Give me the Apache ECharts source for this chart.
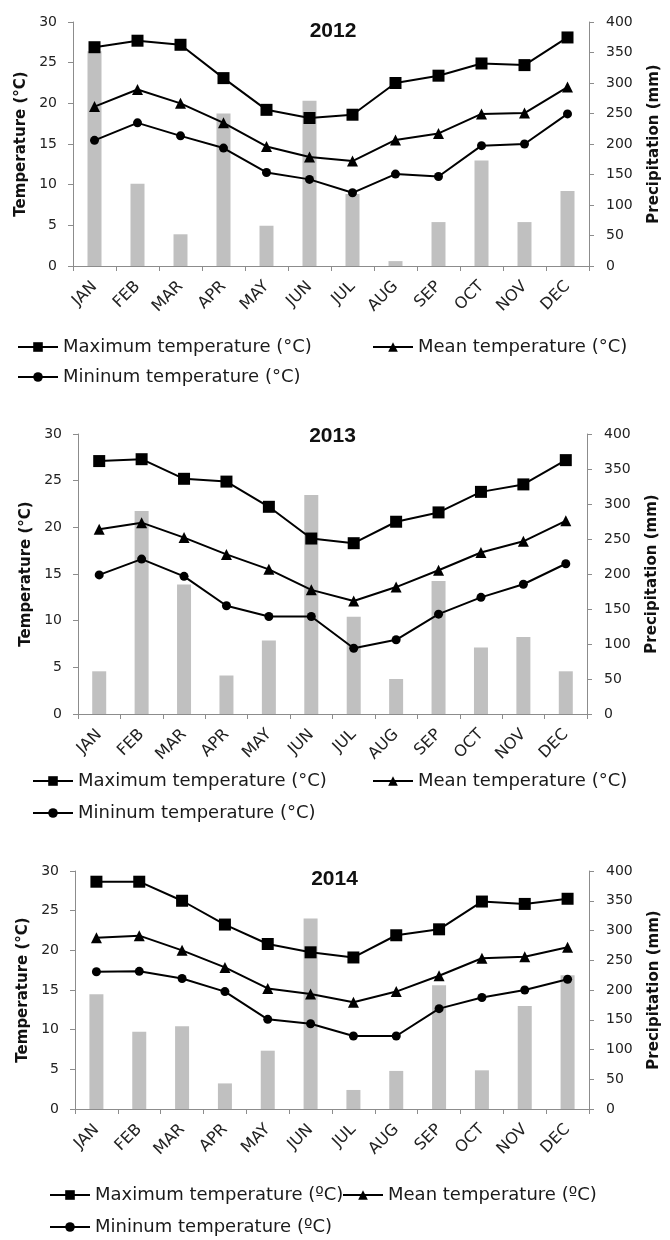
<!DOCTYPE html>
<html><head><meta charset="utf-8">
<script src="https://cdn.jsdelivr.net/npm/echarts@6/dist/echarts.min.js"></script>
<style>html,body{margin:0;padding:0;background:#fff}#c{width:670px;height:1240px}</style>
</head><body><div id="c"></div>
<script>
const months = ['JAN','FEB','MAR','APR','MAY','JUN','JUL','AUG','SEP','OCT','NOV','DEC'];
const years = ['2012','2013','2014'];

const max2012 = [26.9, 27.7, 27.2, 23.1, 19.2, 18.2, 18.6, 22.5, 23.4, 24.9, 24.7, 28.1];
const mean2012 = [19.6, 21.7, 20.0, 17.6, 14.7, 13.4, 12.9, 15.5, 16.3, 18.7, 18.8, 22.0];
const min2012 = [15.45, 17.6, 16.0, 14.5, 11.5, 10.65, 9.0, 11.3, 11.0, 14.8, 15.0, 18.7];
const prec2012 = [352, 135, 52, 250, 66, 271, 118, 8, 72, 173, 72, 123];

const max2013 = [27.1, 27.3, 25.2, 24.9, 22.2, 18.8, 18.3, 20.6, 21.6, 23.8, 24.6, 27.2];
const mean2013 = [19.8, 20.5, 18.9, 17.1, 15.5, 13.3, 12.1, 13.6, 15.4, 17.3, 18.5, 20.7];
const min2013 = [14.9, 16.6, 14.75, 11.6, 10.45, 10.45, 7.05, 7.95, 10.7, 12.5, 13.9, 16.1];
const prec2013 = [61, 290, 185, 55, 105, 313, 139, 50, 190, 95, 110, 61];

const max2014 = [28.65, 28.65, 26.25, 23.25, 20.8, 19.75, 19.1, 21.9, 22.65, 26.15, 25.85, 26.5];
const mean2014 = [21.6, 21.85, 20.0, 17.85, 15.2, 14.5, 13.45, 14.8, 16.8, 19.0, 19.2, 20.4];
const min2014 = [17.3, 17.35, 16.45, 14.8, 11.3, 10.75, 9.2, 9.2, 12.65, 14.05, 15.0, 16.35];
const prec2014 = [193, 130, 139, 43, 98, 320, 32, 64, 208, 65, 173, 225];

const tempTicks = [0, 5, 10, 15, 20, 25, 30];
const precTicks = [0, 50, 100, 150, 200, 250, 300, 350, 400];

const panels = [
  {year: years[0], max: max2012, mean: mean2012, min: min2012, prec: prec2012, deg: '°C',
   grid: {left: 73, top: 22, width: 520, height: 244}, titleY: 21,
   leg: {row1: 348, row2: 378, maxX: 17, meanX: 372, minX: 17}},
  {year: years[1], max: max2013, mean: mean2013, min: min2013, prec: prec2013, deg: '°C',
   grid: {left: 78, top: 434, width: 509, height: 280}, titleY: 426,
   leg: {row1: 782, row2: 814, maxX: 32, meanX: 372, minX: 32}},
  {year: years[2], max: max2014, mean: mean2014, min: min2014, prec: prec2014, deg: 'ºC',
   grid: {left: 75, top: 871, width: 519, height: 238}, titleY: 869,
   leg: {row1: 1196, row2: 1228, maxX: 49, meanX: 342, minX: 49}}
];

const FONT = 'DejaVu Sans';
const axisGray = '#8c8c8c';
const option = {
  animation: false,
  backgroundColor: '#fff',
  title: [], grid: [], xAxis: [], yAxis: [], legend: [], series: []
};

panels.forEach((p, i) => {
  const nMax = 'Maximum temperature (' + p.deg + ')';
  const nMean = 'Mean temperature (' + p.deg + ')';
  const nMin = 'Mininum temperature (' + p.deg + ')';
  option.title.push({
    text: p.year, left: p.grid.left + p.grid.width / 2, top: p.titleY, textAlign: 'center', padding: 0,
    textStyle: {fontFamily: 'Liberation Sans', fontWeight: 'bold', fontSize: 21, color: '#111'}
  });
  option.grid.push(Object.assign({containLabel: false}, p.grid));
  option.xAxis.push({
    type: 'category', gridIndex: i, data: months, boundaryGap: true,
    axisLine: {lineStyle: {color: axisGray, width: 1}},
    axisTick: {show: true, length: 5, lineStyle: {color: axisGray}},
    axisLabel: {rotate: 45, interval: 0, margin: 18, fontFamily: FONT, fontSize: 16, color: '#222'}
  });
  option.yAxis.push({
    type: 'value', gridIndex: i, min: tempTicks[0], max: tempTicks[tempTicks.length - 1], interval: 5,
    name: 'Temperature (°C)', nameLocation: 'middle', nameRotate: 90, nameGap: 42,
    nameTextStyle: {fontFamily: FONT, fontWeight: 'bold', fontSize: 15, color: '#111'},
    splitLine: {show: false},
    axisLine: {show: true, lineStyle: {color: axisGray}},
    axisTick: {show: true, length: 5, lineStyle: {color: axisGray}},
    axisLabel: {margin: 16, fontFamily: FONT, fontSize: 14, color: '#222'}
  });
  option.yAxis.push({
    type: 'value', gridIndex: i, position: 'right', min: precTicks[0], max: precTicks[precTicks.length - 1], interval: 50,
    name: 'Precipitation (mm)', nameLocation: 'middle', nameRotate: 90, nameGap: 58,
    nameTextStyle: {fontFamily: FONT, fontWeight: 'bold', fontSize: 15, color: '#111'},
    splitLine: {show: false},
    axisLine: {show: true, lineStyle: {color: axisGray}},
    axisTick: {show: true, length: 5, lineStyle: {color: axisGray}},
    axisLabel: {margin: 17, fontFamily: FONT, fontSize: 14, color: '#222'}
  });
  const yT = i * 2, yP = i * 2 + 1;
  option.series.push({
    type: 'bar', name: 'Precipitation ' + p.year, xAxisIndex: i, yAxisIndex: yP, data: p.prec,
    barWidth: 14, itemStyle: {color: '#c0c0c0'}, z: 1
  });
  const lineBase = {type: 'line', xAxisIndex: i, yAxisIndex: yT, z: 3,
    lineStyle: {color: '#000', width: 2}, itemStyle: {color: '#000'}};
  option.series.push(Object.assign({}, lineBase, {name: nMax, data: p.max, symbol: 'rect', symbolSize: 12}));
  option.series.push(Object.assign({}, lineBase, {name: nMean, data: p.mean, symbol: 'triangle', symbolSize: 11}));
  option.series.push(Object.assign({}, lineBase, {name: nMin, data: p.min, symbol: 'circle', symbolSize: 9}));
  const legBase = {orient: 'horizontal', padding: 0, itemWidth: 40, itemHeight: 12, itemGap: 5,
    selectedMode: false, textStyle: {fontFamily: FONT, fontSize: 18, color: '#1a1a1a'}};
  option.legend.push(Object.assign({}, legBase, {data: [nMax], left: p.leg.maxX, top: p.leg.row1 - 10}));
  option.legend.push(Object.assign({}, legBase, {data: [nMean], left: p.leg.meanX, top: p.leg.row1 - 10}));
  option.legend.push(Object.assign({}, legBase, {data: [nMin], left: p.leg.minX, top: p.leg.row2 - 10}));
});

const chart = echarts.init(document.getElementById('c'), null, {renderer: 'canvas'});
chart.setOption(option);
</script></body></html>
